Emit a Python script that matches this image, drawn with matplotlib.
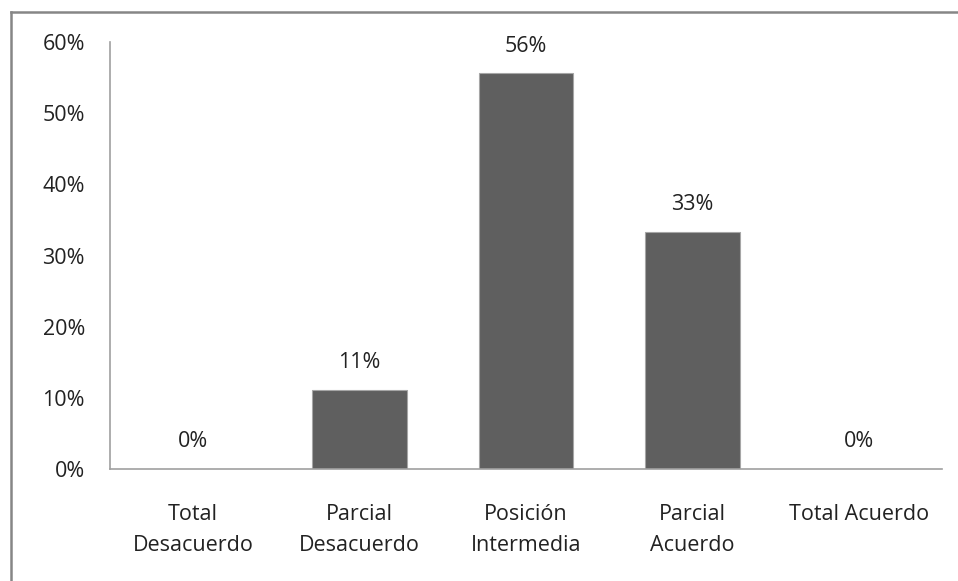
import matplotlib
matplotlib.use("Agg")
import matplotlib.pyplot as plt
from matplotlib.lines import Line2D

# data
categories = ["Total\nDesacuerdo", "Parcial\nDesacuerdo", "Posición\nIntermedia",
              "Parcial\nAcuerdo", "Total Acuerdo"]
values = [0.0, 11.1, 55.6, 33.3, 0.0]
labels = ["0%", "11%", "56%", "33%", "0%"]
yticks = [0, 10, 20, 30, 40, 50, 60]

plt.rcParams["font.family"] = ["Open Sans", "DejaVu Sans"]
FS = 15.5

fig = plt.figure(figsize=(9.58, 5.81), dpi=100)
ax = fig.add_axes([110 / 958, 1 - 469 / 581, 832 / 958, 427 / 581])

x = range(len(categories))
ax.bar(x, values, width=0.57, color="#5f5f5f", edgecolor="#a6a6a6", linewidth=0.8)

for i, (v, lab) in enumerate(zip(values, labels)):
    ax.annotate(lab, (i, v), xytext=(0, 12), textcoords="offset points",
                ha="center", va="bottom", fontsize=FS, color="#222222")

ax.set_xlim(-0.5, len(categories) - 0.5)
ax.set_ylim(0, 60)
ax.set_yticks(yticks)
ax.set_yticklabels([f"{t}%" for t in yticks])
ax.set_xticks(list(x))
ax.set_xticklabels(categories, linespacing=1.65)
ax.tick_params(axis="y", length=0, pad=18, labelsize=FS, labelcolor="#222222")
ax.tick_params(axis="x", length=0, pad=25, labelsize=FS, labelcolor="#222222")

for side in ["top", "right"]:
    ax.spines[side].set_visible(False)
for side in ["left", "bottom"]:
    ax.spines[side].set_color("#a0a0a0")
    ax.spines[side].set_linewidth(1.2)

# outer chart border (top and left edges visible)
fig.add_artist(Line2D([11 / 958, 1.0], [1 - 12 / 581, 1 - 12 / 581],
                      transform=fig.transFigure, color="#868686", linewidth=1.8))
fig.add_artist(Line2D([11 / 958, 11 / 958], [0.0, 1 - 12 / 581],
                      transform=fig.transFigure, color="#868686", linewidth=1.8))

fig.savefig("out.png", dpi=100)
